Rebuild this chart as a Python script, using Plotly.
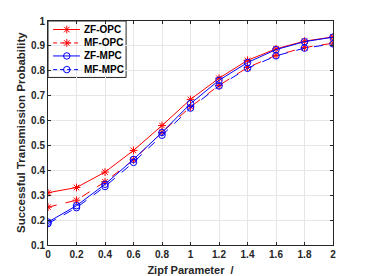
import plotly.graph_objects as go

zipf = [0, 0.2, 0.4, 0.6, 0.8, 1.0, 1.2, 1.4, 1.6, 1.8, 2.0]
zf_opc = [0.31, 0.331, 0.393, 0.48, 0.58, 0.685, 0.77, 0.842, 0.888, 0.919, 0.936]
mf_opc = [0.252, 0.28, 0.354, 0.442, 0.553, 0.655, 0.741, 0.813, 0.862, 0.893, 0.911]
zf_mpc = [0.192, 0.258, 0.344, 0.444, 0.552, 0.668, 0.762, 0.833, 0.885, 0.917, 0.935]
mf_mpc = [0.186, 0.25, 0.335, 0.432, 0.541, 0.65, 0.739, 0.81, 0.86, 0.891, 0.908]

series_names = ["ZF-OPC", "MF-OPC", "ZF-MPC", "MF-MPC"]
x_ticks = [0, 0.2, 0.4, 0.6, 0.8, 1, 1.2, 1.4, 1.6, 1.8, 2]
x_labels = ["0", "0.2", "0.4", "0.6", "0.8", "1", "1.2", "1.4", "1.6", "1.8", "2"]
y_ticks = [0.1, 0.2, 0.3, 0.4, 0.5, 0.6, 0.7, 0.8, 0.9, 1.0]
y_labels = ["0.1", "0.2", "0.3", "0.4", "0.5", "0.6", "0.7", "0.8", "0.9", "1"]

FONT = "Liberation Sans, Arial, sans-serif"
INK = "#262626"

fig = go.Figure()
styles = [
    ("#ff0000", "solid", "asterisk-open"),
    ("#ff0000", "dash", "asterisk-open"),
    ("#0000ff", "solid", "circle-open"),
    ("#0000ff", "dash", "circle-open"),
]
data = [zf_opc, mf_opc, zf_mpc, mf_mpc]
for name, ys, (col, dash, sym) in zip(series_names, data, styles):
    fig.add_trace(go.Scatter(
        x=zipf, y=ys, name=name, mode="lines+markers", showlegend=False,
        line=dict(color=col, width=1, dash=dash),
        marker=dict(symbol=sym, size=6.5, color=col, line=dict(color=col, width=1)),
    ))

# custom compact legend (MATLAB style) drawn in plot-area fractions
leg_right, leg_bottom = 0.274, 0.748
row_y = [0.962, 0.902, 0.844, 0.783]
fig.add_shape(type="rect", xref="paper", yref="paper", x0=0, x1=leg_right, y0=leg_bottom, y1=1,
              line=dict(color=INK, width=1), fillcolor="white", layer="between")
for name, ry, (col, dash, sym) in zip(series_names, row_y, styles):
    fig.add_trace(go.Scatter(
        x=[0.018, 0.066, 0.112], y=[ry, ry, ry], xaxis="x2", yaxis="y2",
        mode="lines", showlegend=False, hoverinfo="skip",
        line=dict(color=col, width=1, dash=dash if dash == "solid" else "4px,3px"),
    ))
    fig.add_trace(go.Scatter(
        x=[0.066], y=[ry], xaxis="x2", yaxis="y2", mode="markers", showlegend=False,
        hoverinfo="skip",
        marker=dict(symbol=sym, size=6.5, color=col, line=dict(color=col, width=1)),
    ))
    fig.add_annotation(x=0.118, y=ry, xref="paper", yref="paper", text="<b>" + name + "</b>",
                       showarrow=False, xanchor="left", yanchor="middle",
                       font=dict(family=FONT, size=10, color="black"))

# y-axis title placed as in the reference
fig.add_annotation(x=0, y=0.5, xref="paper", yref="paper", xanchor="center", yanchor="middle",
                   xshift=-27, textangle=-90, showarrow=False,
                   text="<b>Successful Transmission Probability</b>",
                   font=dict(family=FONT, size=11.5, color=INK))

axis_common = dict(
    showline=True, linecolor=INK, linewidth=1, mirror="ticks",
    ticks="inside", ticklen=3, tickcolor=INK, automargin=False,
    showgrid=True, gridcolor="#e6e6e6", gridwidth=1, zeroline=False,
    tickfont=dict(family=FONT, size=10, color=INK, weight="bold"),
)
fig.update_xaxes(range=[0, 2], tickvals=x_ticks, ticktext=x_labels,
                 title=dict(text="<b>Zipf Parameter  /</b>", font=dict(family=FONT, size=11, color=INK)),
                 **axis_common)
fig.update_yaxes(range=[0.1, 1], tickvals=y_ticks, ticktext=y_labels, **axis_common)

fig.update_layout(
    width=360, height=268,
    margin=dict(l=40, r=35, t=13, b=31),
    paper_bgcolor="white", plot_bgcolor="white",
    font=dict(family=FONT, size=10, color=INK),
    xaxis2=dict(overlaying="x", range=[0, 1], visible=False, fixedrange=True),
    yaxis2=dict(overlaying="y", range=[0, 1], visible=False, fixedrange=True),
    showlegend=False,
)

fig.write_html("out.html")
